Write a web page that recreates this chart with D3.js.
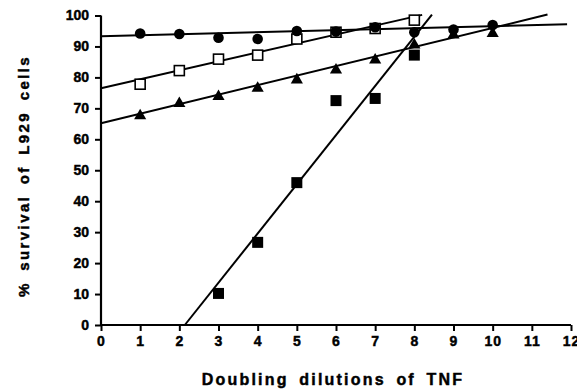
<!DOCTYPE html>
<html>
<head>
<meta charset="utf-8">
<script src="https://cdn.jsdelivr.net/npm/d3@7"></script>
<style>
  body { margin: 0; background: #fff; }
  svg text { font-family: "Liberation Sans", Arial, Helvetica, sans-serif; font-weight: bold; fill: #000; stroke: #000; stroke-width: 0.45px; }
</style>
</head>
<body>
<div id="chart"></div>
<script>

// doubling dilutions for each series
var circleX = [1, 2, 3, 4, 5, 6, 7, 8, 9, 10];
var circleY = [94.2, 94, 92.8, 92.4, 95, 94.8, 96.2, 94.6, 95.5, 96.9];

var openSqX = [1, 2, 3, 4, 5, 6, 7, 8];
var openSqY = [77.8, 82.2, 85.9, 87.2, 92.4, 94.6, 95.8, 98.5];

var triX = [1, 2, 3, 4, 5, 6, 7, 8, 9, 10];
var triY = [67.6, 71.6, 73.8, 76.5, 79.2, 82.4, 85.6, 90.5, 93.7, 94.2];

var fillSqX = [3, 4, 5, 6, 7, 8];
var fillSqY = [10.2, 26.7, 46, 72.5, 73.2, 87.2];

// regression lines as [x start, y start, x end, y end]
var circleFit = [0, 93.3, 11.9, 97.2];
var openSqFit = [0, 76.5, 8.2, 100.2];
var triFit = [0, 65.2, 11.4, 100.3];
var fillSqFit = [2.14, 0, 8.45, 100.3];

var xTicks = [0, 1, 2, 3, 4, 5, 6, 7, 8, 9, 10, 11, 12];
var yTicks = [0, 10, 20, 30, 40, 50, 60, 70, 80, 90, 100];

const W = 577, H = 392;
const margins = { top: 15.5, right: 6, bottom: 67, left: 101 };
const gw = W - margins.left - margins.right;
const gh = H - margins.top - margins.bottom;

const svg = d3.select("#chart").append("svg")
  .attr("width", W)
  .attr("height", H);

const graph = svg.append("g")
  .attr("transform", `translate(${margins.left},${margins.top})`);

const x = d3.scaleLinear().domain([0, 12]).range([0, gw]);
const y = d3.scaleLinear().domain([0, 100]).range([gh, 0]);

// axes
const xAxis = d3.axisBottom(x).tickValues(xTicks).tickSize(6).tickPadding(5).tickFormat(d3.format("d"));
const yAxis = d3.axisLeft(y).tickValues(yTicks).tickSize(6).tickPadding(6).tickFormat(d3.format("d"));

const xg = graph.append("g").attr("transform", `translate(0,${gh})`).call(xAxis);
const yg = graph.append("g").call(yAxis);

[xg, yg].forEach(g => {
  g.select(".domain").attr("stroke", "#000").attr("stroke-width", 2.2);
  g.selectAll(".tick line").attr("stroke", "#000").attr("stroke-width", 2);
  g.selectAll(".tick text")
    .attr("font-size", 14)
    .attr("fill", "#000");
});
xg.selectAll(".tick text").style("letter-spacing", "1px");
// keep the axis lines plain, no end caps
xg.select(".domain").attr("d", `M0,0H${gw}`);
yg.select(".domain").attr("d", `M0,${gh}V0`);

// axis titles
svg.append("text")
  .attr("transform", `translate(29,176) rotate(-90)`)
  .attr("text-anchor", "middle")
  .attr("font-size", 15)
  .style("letter-spacing", "2.4px")
  .style("word-spacing", "4px")
  .text("% survival of L929 cells");

svg.append("text")
  .attr("x", 333)
  .attr("y", 385)
  .attr("text-anchor", "middle")
  .attr("font-size", 16)
  .style("letter-spacing", "2.2px")
  .style("word-spacing", "4px")
  .text("Doubling dilutions of TNF");

// fitted lines
const fits = [circleFit, openSqFit, triFit, fillSqFit];
graph.selectAll("line.fit").data(fits).enter().append("line")
  .attr("class", "fit")
  .attr("x1", d => x(d[0]))
  .attr("y1", d => y(d[1]))
  .attr("x2", d => x(d[2]))
  .attr("y2", d => y(d[3]))
  .attr("stroke", "#000")
  .attr("stroke-width", 2);

const pts = (xs, ys) => xs.map((v, i) => ({ x: v, y: ys[i] }));

// filled squares
graph.selectAll("rect.fsq").data(pts(fillSqX, fillSqY)).enter().append("rect")
  .attr("class", "fsq")
  .attr("x", d => x(d.x) - 5.5)
  .attr("y", d => y(d.y) - 5.5)
  .attr("width", 11)
  .attr("height", 11)
  .attr("fill", "#000");

// triangles
const tri = d3.symbol().type(d3.symbolTriangle).size(64);
graph.selectAll("path.tri").data(pts(triX, triY)).enter().append("path")
  .attr("class", "tri")
  .attr("d", tri)
  .attr("transform", d => `translate(${x(d.x)},${y(d.y)})`)
  .attr("fill", "#000");

// open squares
graph.selectAll("rect.osq").data(pts(openSqX, openSqY)).enter().append("rect")
  .attr("class", "osq")
  .attr("x", d => x(d.x) - 5)
  .attr("y", d => y(d.y) - 5)
  .attr("width", 10)
  .attr("height", 10)
  .attr("fill", "#fff")
  .attr("stroke", "#000")
  .attr("stroke-width", 1.6);

// filled circles
graph.selectAll("circle").data(pts(circleX, circleY)).enter().append("circle")
  .attr("cx", d => x(d.x))
  .attr("cy", d => y(d.y))
  .attr("r", 5.3)
  .attr("fill", "#000");

</script>
</body>
</html>
